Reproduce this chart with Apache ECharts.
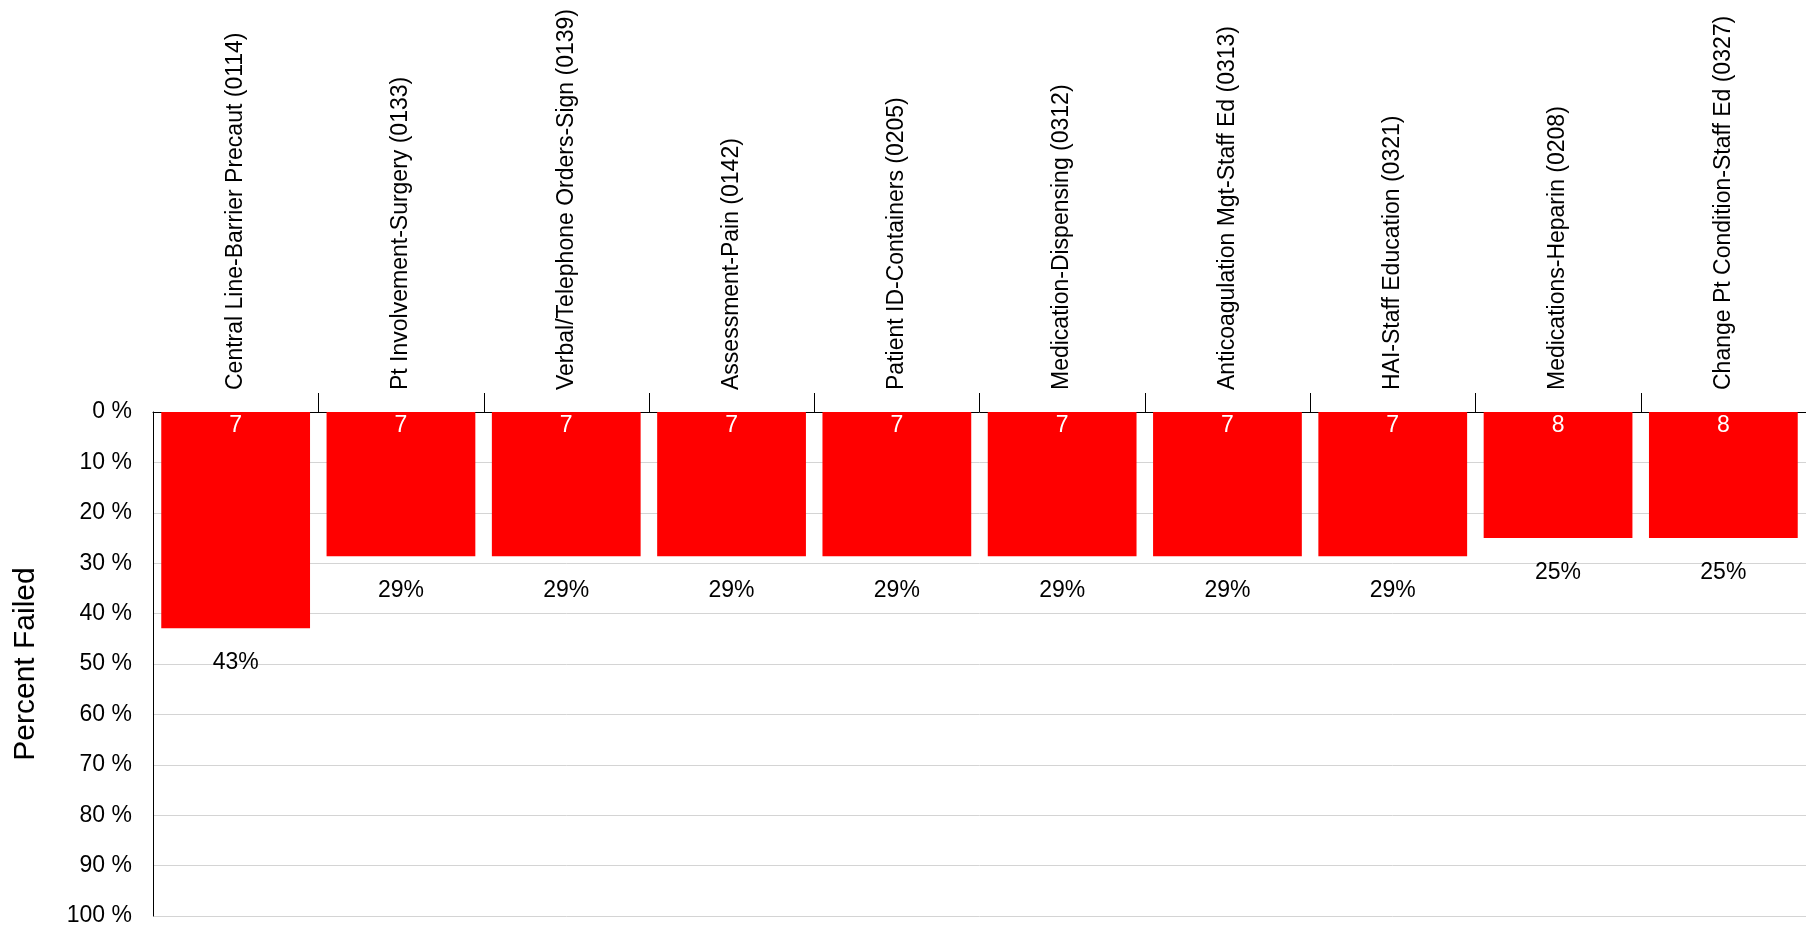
<!DOCTYPE html>
<html>
<head>
<meta charset="utf-8">
<script src="https://cdn.jsdelivr.net/npm/echarts@6/dist/echarts.min.js"></script>
<style>
html,body{margin:0;padding:0;background:#fff;}
#chart{width:1806px;height:932px;}
</style>
</head>
<body>
<div id="chart"></div>
<script>
const categories = [
  "Central Line-Barrier Precaut (0114)",
  "Pt Involvement-Surgery (0133)",
  "Verbal/Telephone Orders-Sign (0139)",
  "Assessment-Pain (0142)",
  "Patient ID-Containers (0205)",
  "Medication-Dispensing (0312)",
  "Anticoagulation Mgt-Staff Ed (0313)",
  "HAI-Staff Education (0321)",
  "Medications-Heparin (0208)",
  "Change Pt Condition-Staff Ed (0327)"
];
const percentFailed = [42.9, 28.6, 28.6, 28.6, 28.6, 28.6, 28.6, 28.6, 25, 25];
const counts = [7, 7, 7, 7, 7, 7, 7, 7, 8, 8];
const yTicks = { min: 0, max: 100, interval: 10 };

const FONT = "'Liberation Sans', Arial, sans-serif";

// category boundaries (between neighbouring categories) for the tick marks
const boundaryIdx = categories.map((c, i) => i).filter(i => i > 0);

const chart = echarts.init(document.getElementById('chart'));
chart.setOption({
  animation: false,
  backgroundColor: '#ffffff',
  grid: { left: 153, right: 0, top: 412, bottom: 16, containLabel: false, outerBoundsMode: 'none' },
  xAxis: {
    type: 'category',
    position: 'top',
    data: categories,
    axisLine: { show: true, lineStyle: { color: '#000', width: 1 } },
    axisTick: { show: false },
    axisLabel: {
      interval: 0, rotate: 90, margin: 22,
      color: '#000', fontFamily: FONT, fontSize: 23
    },
    splitLine: { show: false }
  },
  yAxis: {
    type: 'value',
    inverse: true,
    min: yTicks.min, max: yTicks.max, interval: yTicks.interval,
    name: 'Percent Failed',
    nameLocation: 'middle',
    nameGap: 112,
    nameRotate: 90,
    nameTextStyle: { color: '#000', fontFamily: FONT, fontSize: 30 },
    axisLine: { show: true, lineStyle: { color: '#000', width: 1 } },
    axisTick: { show: false },
    axisLabel: {
      formatter: '{value} %', margin: 21,
      color: '#000', fontFamily: FONT, fontSize: 23
    },
    splitLine: { show: true, lineStyle: { color: '#d4d4d4', width: 1 } }
  },
  series: [
    {
      type: 'bar',
      data: percentFailed,
      barCategoryGap: '10%',
      itemStyle: { color: '#ff0000' },
      label: {
        show: true, position: 'insideTop', distance: 2,
        color: '#fff', fontFamily: FONT, fontSize: 23,
        formatter: p => String(counts[p.dataIndex])
      },
      z: 2
    },
    {
      type: 'bar',
      data: percentFailed,
      barGap: '-100%',
      barCategoryGap: '10%',
      itemStyle: { color: 'rgba(0,0,0,0)' },
      label: {
        show: true, position: 'bottom', distance: 23,
        color: '#000', fontFamily: FONT, fontSize: 23,
        formatter: p => Math.round(p.value) + '%'
      },
      z: 3,
      silent: true
    },
    {
      type: 'custom',
      clip: false,
      silent: true,
      z: 5,
      data: boundaryIdx.map(i => [i, 0]),
      encode: { x: 0, y: 1 },
      renderItem: function (params, api) {
        const c = api.coord([api.value(0), api.value(1)]);
        const band = api.size([1, 0])[0];
        const x = Math.round(c[0] - band / 2) + 0.5;
        const y = c[1];
        return {
          type: 'line',
          shape: { x1: x, y1: y, x2: x, y2: y - 19 },
          style: { stroke: '#000', lineWidth: 1 }
        };
      }
    }
  ]
});
</script>
</body>
</html>
